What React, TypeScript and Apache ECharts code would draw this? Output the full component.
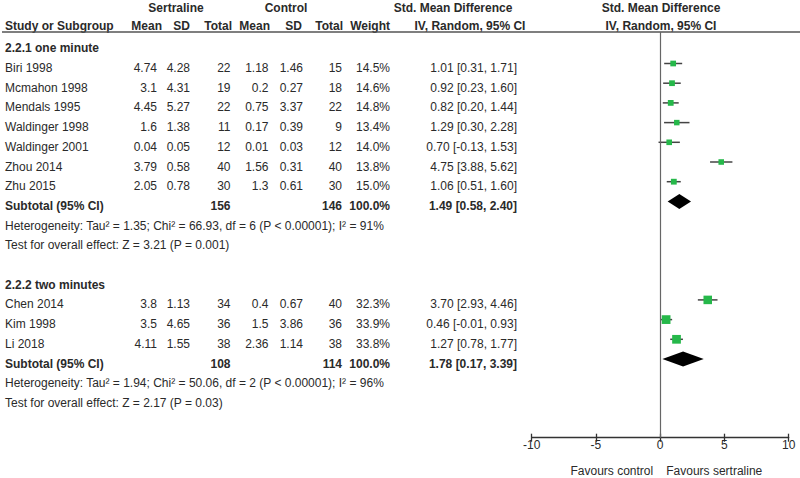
import React, { useEffect, useRef } from "react";
import * as echarts from "echarts";

const FONT = '"Liberation Sans", Arial, Helvetica, sans-serif';
const TEXT = "#2a2a2a";
const GREEN = "#26b84a";

// ---------- data ----------
const group1Title = "2.2.1 one minute";
const studies1 = ["Biri 1998", "Mcmahon 1998", "Mendals 1995", "Waldinger 1998", "Waldinger 2001", "Zhou 2014", "Zhu 2015"];
const sMean1 = [4.74, 3.1, 4.45, 1.6, 0.04, 3.79, 2.05];
const sSD1 = [4.28, 4.31, 5.27, 1.38, 0.05, 0.58, 0.78];
const sN1 = [22, 19, 22, 11, 12, 40, 30];
const cMean1 = [1.18, 0.2, 0.75, 0.17, 0.01, 1.56, 1.3];
const cSD1 = [1.46, 0.27, 3.37, 0.39, 0.03, 0.31, 0.61];
const cN1 = [15, 18, 22, 9, 12, 40, 30];
const weight1 = [14.5, 14.6, 14.8, 13.4, 14.0, 13.8, 15.0];
const smd1 = [1.01, 0.92, 0.82, 1.29, 0.7, 4.75, 1.06];
const lo1 = [0.31, 0.23, 0.2, 0.3, -0.13, 3.88, 0.51];
const hi1 = [1.71, 1.6, 1.44, 2.28, 1.53, 5.62, 1.6];
const subtotalN1 = [156, 146];
const subtotalEffect1 = [1.49, 0.58, 2.4];
const het1 = "Heterogeneity: Tau\u00b2 = 1.35; Chi\u00b2 = 66.93, df = 6 (P < 0.00001); I\u00b2 = 91%";
const test1 = "Test for overall effect: Z = 3.21 (P = 0.001)";

const group2Title = "2.2.2 two minutes";
const studies2 = ["Chen 2014", "Kim 1998", "Li 2018"];
const sMean2 = [3.8, 3.5, 4.11];
const sSD2 = [1.13, 4.65, 1.55];
const sN2 = [34, 36, 38];
const cMean2 = [0.4, 1.5, 2.36];
const cSD2 = [0.67, 3.86, 1.14];
const cN2 = [40, 36, 38];
const weight2 = [32.3, 33.9, 33.8];
const smd2 = [3.7, 0.46, 1.27];
const lo2 = [2.93, -0.01, 0.78];
const hi2 = [4.46, 0.93, 1.77];
const subtotalN2 = [108, 114];
const subtotalEffect2 = [1.78, 0.17, 3.39];
const het2 = "Heterogeneity: Tau\u00b2 = 1.94; Chi\u00b2 = 50.06, df = 2 (P < 0.00001); I\u00b2 = 96%";
const test2 = "Test for overall effect: Z = 2.17 (P = 0.03)";

const AXIS_MIN = -10;
const AXIS_MAX = 10;
const AXIS_STEP = 5;
const favourLeft = "Favours control";
const favourRight = "Favours sertraline";

// ---------- layout ----------
const W = 800;
const H = 478;
const ROW0 = 48.3;
const ROWH = 19.7;
const MARK_OFF = -4.5;
const GRID_L = 531.7;
const GRID_R = 788.7;
const GRID_T = 32;
const GRID_B = 437.7;
const COL_X = [157, 190, 230.5, 268.5, 303, 342, 390, 517];

const groups = [
  { title: group1Title, studies: studies1, sMean: sMean1, sSD: sSD1, sN: sN1, cMean: cMean1, cSD: cSD1, cN: cN1, weight: weight1, smd: smd1, lo: lo1, hi: hi1, subN: subtotalN1, subE: subtotalEffect1, het: het1, test: test1 },
  { title: group2Title, studies: studies2, sMean: sMean2, sSD: sSD2, sN: sN2, cMean: cMean2, cSD: cSD2, cN: cN2, weight: weight2, smd: smd2, lo: lo2, hi: hi2, subN: subtotalN2, subE: subtotalEffect2, het: het2, test: test2 },
];

function txt(text: string, x: number, y: number, align: string, bold = false, size = 12) {
  return {
    type: "text",
    x,
    y,
    silent: true,
    style: {
      text,
      fill: TEXT,
      fontSize: size,
      fontFamily: FONT,
      fontWeight: bold ? "bold" : "normal",
      align,
      verticalAlign: "middle",
    },
  };
}

const ci = (e: number, l: number, h: number) => `${e.toFixed(2)} [${l.toFixed(2)}, ${h.toFixed(2)}]`;

export default function App() {
  const ref = useRef<HTMLDivElement>(null);
  useEffect(() => {
    if (!ref.current) return;
    const chart = echarts.init(ref.current, undefined, { renderer: "svg" });

    const graphics: any[] = [];
    const whiskers: any[] = [];
    const points: any[] = [];
    const diamonds: any[] = [];

    // headers
    graphics.push(txt("Sertraline", 176, 8, "center", true));
    graphics.push(txt("Control", 286, 8, "center", true));
    graphics.push(txt("Std. Mean Difference", 453, 8, "center", true));
    graphics.push(txt("Std. Mean Difference", 661, 8, "center", true));
    graphics.push(txt("Study or Subgroup", 5, 25.5, "left", true));
    const hdr = ["Mean", "SD", "Total", "Mean", "SD", "Total", "Weight"];
    const hdrX = [162, 190, 232, 270, 302, 343, 390];
    hdr.forEach((h, i) => graphics.push(txt(h, hdrX[i], 25.5, "right", true)));
    graphics.push(txt("IV, Random, 95% CI", 470, 25.5, "center", true));
    graphics.push(txt("IV, Random, 95% CI", 661, 25.5, "center", true));
    graphics.push({
      type: "line",
      silent: true,
      shape: { x1: 2, y1: GRID_T, x2: W, y2: GRID_T },
      style: { stroke: "#555", lineWidth: 1.5 },
    });

    let r = 0;
    groups.forEach((g) => {
      const ry = (row: number) => ROW0 + row * ROWH;
      graphics.push(txt(g.title, 5, ry(r), "left", true));
      g.studies.forEach((s, i) => {
        const row = r + 1 + i;
        const y = ry(row);
        graphics.push(txt(s, 5, y, "left"));
        const vals = [
          String(g.sMean[i]),
          String(g.sSD[i]),
          String(g.sN[i]),
          String(g.cMean[i]),
          String(g.cSD[i]),
          String(g.cN[i]),
          g.weight[i].toFixed(1) + "%",
          ci(g.smd[i], g.lo[i], g.hi[i]),
        ];
        vals.forEach((v, k) => graphics.push(txt(v, COL_X[k], y, "right")));
        const my = row + MARK_OFF / ROWH;
        whiskers.push([g.lo[i], g.hi[i], my]);
        points.push([g.smd[i], my, g.weight[i]]);
      });
      const subRow = r + 1 + g.studies.length;
      const sy = ry(subRow);
      graphics.push(txt("Subtotal (95% CI)", 5, sy, "left", true));
      graphics.push(txt(String(g.subN[0]), COL_X[2], sy, "right", true));
      graphics.push(txt(String(g.subN[1]), COL_X[5], sy, "right", true));
      graphics.push(txt("100.0%", COL_X[6], sy, "right", true));
      graphics.push(txt(ci(g.subE[0], g.subE[1], g.subE[2]), COL_X[7], sy, "right", true));
      diamonds.push([g.subE[0], g.subE[1], g.subE[2], subRow + MARK_OFF / ROWH]);
      graphics.push(txt(g.het, 5, ry(subRow + 1), "left"));
      graphics.push(txt(g.test, 5, ry(subRow + 2), "left"));
      r = subRow + 4;
    });

    const px = (v: number) => GRID_L + ((v - AXIS_MIN) / (AXIS_MAX - AXIS_MIN)) * (GRID_R - GRID_L);
    graphics.push(txt(favourLeft, px(0) - 7, 470.5, "right"));
    graphics.push(txt(favourRight, px(0) + 6, 470.5, "left"));

    const axisCommon = {
      type: "value",
      min: AXIS_MIN,
      max: AXIS_MAX,
      interval: AXIS_STEP,
      position: "bottom",
      splitLine: { show: false },
    };

    chart.setOption({
      animation: false,
      backgroundColor: "#ffffff",
      grid: { left: GRID_L, right: W - GRID_R, top: GRID_T, bottom: H - GRID_B },
      xAxis: [
        {
          ...axisCommon,
          axisLine: { show: true, onZero: false, lineStyle: { color: "#333", width: 1.3 } },
          axisTick: { show: true, length: 4, lineStyle: { color: "#333", width: 1.3 } },
          axisLabel: { color: TEXT, fontSize: 12, fontFamily: FONT, margin: 1 },
        },
        {
          ...axisCommon,
          axisLine: { show: false, onZero: false },
          axisTick: { show: true, inside: true, length: 4, lineStyle: { color: "#333", width: 1.3 } },
          axisLabel: { show: false },
        },
      ],
      yAxis: {
        type: "value",
        inverse: true,
        show: false,
        min: (GRID_T - ROW0) / ROWH,
        max: (GRID_B - ROW0) / ROWH,
        splitLine: { show: false },
      },
      graphic: graphics,
      series: [
        {
          type: "custom",
          name: "ci",
          data: whiskers,
          encode: { x: [0, 1], y: 2 },
          renderItem: (_p: any, api: any) => {
            const a = api.coord([api.value(0), api.value(2)]);
            const b = api.coord([api.value(1), api.value(2)]);
            return {
              type: "line",
              shape: { x1: a[0], y1: a[1], x2: b[0], y2: b[1] },
              style: { stroke: "#444", lineWidth: 1.5 },
            };
          },
        },
        {
          type: "scatter",
          name: "effect",
          data: points,
          symbol: "rect",
          symbolSize: (v: number[]) => 1.5 * Math.sqrt(v[2]),
          itemStyle: { color: GREEN, opacity: 1 },
          markLine: {
            silent: true,
            symbol: "none",
            label: { show: false },
            lineStyle: { color: "#666", width: 1.2, type: "solid" },
            data: [{ xAxis: 0 }],
          },
        },
        {
          type: "custom",
          name: "subtotal",
          data: diamonds,
          encode: { x: [0, 1, 2], y: 3 },
          renderItem: (_p: any, api: any) => {
            const c = api.coord([api.value(0), api.value(3)]);
            const l = api.coord([api.value(1), api.value(3)]);
            const h = api.coord([api.value(2), api.value(3)]);
            const hh = 7.5;
            return {
              type: "polygon",
              shape: { points: [[l[0], c[1]], [c[0], c[1] - hh], [h[0], c[1]], [c[0], c[1] + hh]] },
              style: { fill: "#000" },
            };
          },
        },
      ],
    });
    return () => chart.dispose();
  }, []);
  return <div ref={ref} style={{ position: "absolute", left: 0, top: 0, width: W, height: H }} />;
}
